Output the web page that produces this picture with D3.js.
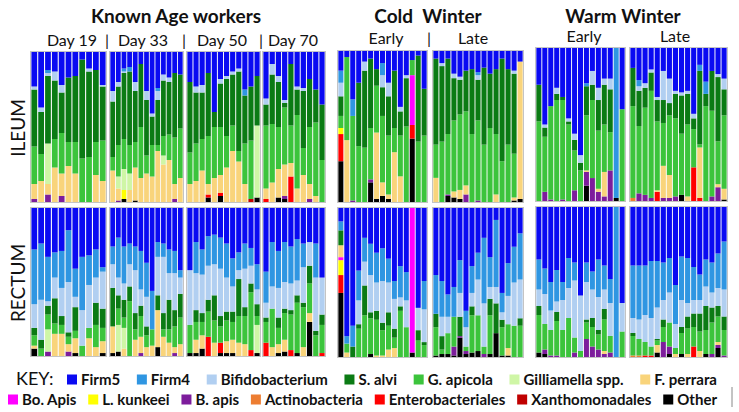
<!DOCTYPE html>
<html><head><meta charset="utf-8">
<script src="https://cdn.jsdelivr.net/npm/d3@7"></script>
<style>body{margin:0;background:#fff}svg{display:block;font-family:Lato,"Open Sans",sans-serif}</style>
</head><body>
<svg id="c" width="739" height="412"></svg>
<script>
// ---------- categories ----------
const taxaNames  = ["Firm5","Firm4","Bifidobacterium","S. alvi","G. apicola","Gilliamella spp.","F. perrara","Bo. Apis","L. kunkeei","B. apis","Actinobacteria","Enterobacteriales","Xanthomonadales","Other"];
const taxaKeys   = ["F5","F4","Bi","Sa","Ga","Gs","Fp","Bo","Lk","Ba","Ac","En","Xa","Ot"];
const taxaColors = ["#0a0af2","#2f96e2","#b1cff1","#0b7b14","#3cc43c","#cff6a6","#f9d47b","#ff00ff","#ffff00","#7d1d9c","#ed7d31","#ff0000","#c00000","#000000"];

// ---------- titles / labels ----------
const groupTitles = ["Known Age workers","Cold  Winter","Warm Winter"];
const subLabels   = ["Day 19","Day 33","Day 50","Day 70","Early","Late","Early","Late"];
const tissueLabels = ["ILEUM","RECTUM"];

// ---------- data: relative abundance (%) per bee, ILEUM ----------
const ileumDay19 = [
{F5:23,Bi:2,Sa:38,Ga:25,Fp:10,Ba:2},{F5:37,Bi:3,Sa:28,Ga:18,Fp:14},{F5:12,F4:2,Bi:2,Sa:45,Gs:27,Fp:7,Ba:5},
{F5:13,Bi:6,Sa:39,Ga:19,Fp:23},{F5:22,Bi:5,Sa:27,Ga:27,Fp:15,Ba:4},{F5:17,Sa:43,Ga:16,Fp:24},
{F5:16,Sa:44,Ga:21,Fp:19},{F5:5,Sa:66,Ga:29},{F5:11,Bi:2,Sa:57,Ga:30},{F5:12,Sa:48,Ga:22,Fp:18},
{F5:22,Bi:1,Sa:36,Ga:27,Fp:14}];
const ileumDay33 = [
{F5:26,Bi:7,Sa:37,Ga:9,Fp:21},{F5:20,Bi:3,Sa:39,Ga:21,Gs:8,Fp:8,Ba:1},{F5:11,F4:2,Bi:1,Sa:44,Ga:20,Gs:14,Lk:6,Ot:2},
{F5:10,F4:3,Sa:49,Ga:19,Gs:11,Fp:8},{F5:20,Bi:6,Sa:34,Ga:17,Fp:22,Ot:1},{F5:8,Sa:42,Ga:34,Fp:16},
{F5:26,Bi:6,Sa:37,Ga:12,Fp:19},{F5:41,Bi:2,Sa:19,Ga:21,Fp:17},{F5:24,F4:2,Bi:6,Sa:30,Ga:4,Fp:34},
{F5:15,Bi:4,Sa:37,Ga:13,Gs:6,Fp:25},{F5:17,Bi:3,Sa:35,Ga:17,Fp:28},{F5:14,Sa:43,Ga:31,Fp:10,Ba:2},
{F5:15,Sa:36,Ga:33,Fp:16}];
const ileumDay50 = [
{F5:20,Sa:47,Ga:21,Fp:12},{F5:23,Bi:4,Sa:34,Ga:25,Fp:14},{F5:22,Bi:5,Sa:31,Ga:21,Fp:21},
{F5:14,Sa:42,Ga:32,Fp:7,En:2,Ot:3},{F5:40,Sa:10,Ga:34,Fp:16},{F5:18,Bi:3,Sa:29,Ga:32,Fp:12,En:2,Ot:4},
{F5:16,Bi:2,Sa:38,Ga:21,Fp:23},{F5:13,Bi:2,Sa:34,Ga:17,Fp:34},{F5:11,Bi:2,Sa:53,Ga:7,Fp:27},
{F5:25,F4:4,Sa:32,Ga:27,Fp:12},{F5:23,Sa:36,Ga:39,Xa:2},{F5:16,Sa:33,Gs:48,Ot:3}];
const ileumDay70 = [
{F5:31,Bi:4,Sa:14,Ga:42,Fp:7,En:2},{F5:8,Bi:7,Sa:33,Ga:39,Fp:13},{F5:16,Bi:4,Sa:30,Ga:28,Fp:19,Ot:3},
{F5:32,Bi:2,Sa:3,Ga:38,Fp:21,Ba:2,Ot:2},{F5:8,Sa:41,Ga:25,Fp:9,En:17},{F5:23,Bi:2,Sa:17,Ga:49,Fp:9},
{F5:24,Bi:2,Sa:38,Ga:18,Fp:18},{F5:18,Sa:32,Ga:38,Fp:10,Ba:2},{F5:25,Sa:22,Ga:49,Fp:4},{F5:35,Sa:37,Ga:28}];
const ileumColdEarly = [
{F5:13,F4:8,Bi:9,Sa:13,Ga:8,Lk:4,En:18,Ot:27},{F5:4,Ga:55,Fp:41},{F5:32,F4:11,Ga:56,Ba:1},
{F5:21,Sa:42,Ga:37},{F5:7,Bi:6,Sa:51,Ga:36},{F5:5,Sa:46,Ga:34,Ba:2,Ot:13},
{F5:12,Sa:11,Ga:31,Fp:44,Ot:2},{F5:8,F4:8,Bi:8,Sa:19,Ga:44,Fp:9,Ot:4},{F5:21,Bi:9,Sa:26,Ga:39,Fp:3,Ot:2},
{F5:13,Sa:38,Ga:16,Fp:33},{F5:37,Bi:3,Sa:16,Ga:27,Fp:17},{F5:16,Bi:2,Sa:32,Ga:50},
{F5:6,Ga:10,Bo:33,En:9,Ot:42},{F5:3,Sa:57,Ga:40},{F5:25,Sa:31,Ga:44}];
const ileumColdLate = [
{F5:5,Sa:57,Ga:22,Fp:16},{F5:8,Bi:2,Sa:50,Ga:40},{F5:5,Sa:50,Ga:40,Ba:1,Ot:4},
{F5:15,Bi:3,Sa:28,Ga:47,Fp:4,Ot:3},{F5:17,Bi:2,Sa:23,Ga:50,Fp:6,Ot:2},{F5:13,Sa:27,Ga:49,Fp:6,Ba:5},
{F5:12,Sa:43,Ga:45},{F5:14,F4:2,Bi:3,Sa:27,Ga:53,Ba:1},{F5:11,Sa:51,Ga:38},
{F5:15,Sa:36,Ga:49},{F5:12,Sa:43,Ga:40,Fp:5},{F5:5,Sa:68,Ga:27},
{F5:12,Sa:50,Ga:38},{F5:13,Bi:2,Sa:53,Ga:29,Fp:2,Ot:1},{F5:7,Fp:91,Ot:2}];
const ileumWarmEarly = [
{F5:24,Sa:24,Ga:52},{F5:50,Bi:2,Sa:6,Ga:36,Ba:6},{F5:38,Ga:61,Ba:1},
{F5:26,Bi:4,Sa:4,Ga:66},{F5:32,Sa:2,Ga:65,Ba:1},{F5:46,Bi:2,Sa:2,Ga:50},
{F5:56,Bi:4,Sa:7,Ga:26,Ba:7},{F5:70,Bi:5,Sa:5,Ga:20},{F5:23,F4:2,Sa:19,Ga:36,Fp:1,Ba:9,Ot:10},
{F5:15,Bi:9,Sa:10,Ga:51,Ba:15},{F5:26,Bi:8,Sa:20,Ga:38,Fp:2,Ba:6},{F5:20,Bi:4,Sa:26,Ga:31,Fp:16,Ba:3},
{F5:20,Bi:7,Sa:28,Ga:25,Ba:20},{F4:98,Ot:2},{F5:40,Ga:60}];
const ileumWarmLate = [
{F5:13,Sa:25,Ga:60,Ac:2},{F5:21,F4:4,Bi:3,Sa:23,Ga:44,Ba:5},{F5:23,Bi:3,Sa:13,Ga:57,Ba:4},
{F5:14,Bi:2,Sa:12,Ga:70,Ba:2},{F5:32,Bi:2,Sa:14,Ga:45,Fp:1,En:6},{F5:15,Bi:19,Sa:15,Ga:28,Fp:21,Ba:2},
{F5:20,Bi:16,Sa:8,Ga:39,Fp:15,Ba:2},{F5:28,Bi:2,Sa:16,Ga:51,Ba:3},{F5:29,Bi:2,Sa:25,Ga:40,Ot:4},
{F5:28,Bi:2,Sa:20,Ga:47,Fp:3},{F5:43,Bi:3,Sa:7,Ga:25,En:22},{F5:11,F4:4,Sa:48,Ga:2,Fp:33,En:2},
{F5:22,F4:8,Sa:8,Ga:62},{F5:15,Sa:26,Ga:56,Ba:3},{F5:17,Bi:2,Sa:42,Ga:28,Fp:2,Ba:9},
{F5:20,Bi:7,Sa:17,Ga:48,Fp:7,Ot:1}];

// ---------- data: relative abundance (%) per bee, RECTUM ----------
const rectumDay19 = [
{F5:28,F4:37,Bi:16,Sa:5,Ga:7,Fp:2,Ot:5},{F5:24,F4:38,Bi:27,Sa:6,Ga:5},{F5:33,F4:30,Bi:3,Sa:6,Ga:10,Gs:15,Ba:3},
{F5:30,F4:17,Bi:14,Sa:17,Ga:7,Fp:15},{F5:29,F4:25,Bi:19,Sa:6,Ga:6,Fp:15},{F5:15,F4:35,Bi:34,Sa:3,Ga:5,Fp:5,Ba:3},
{F5:41,F4:19,Bi:7,Sa:16,Ga:5,Fp:10,Ot:2},{F5:33,F4:36,Bi:24,Ga:7},{F5:32,F4:20,Bi:29,Ga:7,Fp:12},
{F5:28,F4:19,Bi:17,Sa:15,Ga:15,Fp:6},{F5:40,F4:3,Bi:25,Sa:13,Ga:9,Fp:8,Ot:2}];
const rectumDay33 = [
{F5:26,F4:12,Bi:16,Sa:26,Fp:18,Ot:2},{F5:20,F4:27,Bi:12,Sa:9,Ga:11,Gs:18,Ot:3},{F5:26,F4:25,Bi:11,Sa:12,Ga:7,Gs:14,Fp:5},
{F5:24,F4:14,Bi:15,Sa:10,Ga:37},{F5:26,F4:16,Bi:29,Sa:11,Ga:7,Fp:11},{F5:29,F4:26,Bi:11,Sa:7,Ga:14,Fp:11,Ba:2},
{F5:37,F4:23,Bi:20,Sa:6,Ga:8,Fp:6},{F5:56,F4:26,Ga:11,Fp:7},{F5:23,F4:10,Bi:26,Sa:10,Fp:25,Ot:6},
{F5:24,F4:9,Bi:38,Sa:11,Ga:5,Fp:13},{F5:28,F4:16,Bi:18,Sa:20,Ga:9,Fp:9},{F5:29,F4:15,Bi:25,Sa:11,Ga:14,Fp:4,Ba:2},
{F5:42,F4:5,Bi:11,Sa:16,Ga:18,Fp:8}];
const rectumDay50 = [
{F5:42,Bi:37,Ga:19,Ot:2},{F5:23,F4:21,Bi:25,Sa:8,Ga:12,Fp:9,Ot:2},{F5:28,F4:17,Bi:26,Sa:6,Ga:9,Fp:9,Ot:5},
{F5:19,F4:20,Bi:23,Sa:8,Ga:17,En:13},{F5:18,F4:20,Bi:21,Sa:17,Ga:15,Fp:9},{F5:20,F4:21,Bi:32,Sa:7,Ga:11,En:7,Ot:2},
{F5:24,F4:23,Bi:23,Sa:6,Ga:14,Fp:8,Ot:2},{F5:34,F4:19,Bi:17,Sa:7,Ga:12,Fp:9,Ot:2},{F5:30,F4:12,Bi:6,Sa:25,Ga:18,Fp:9},
{F5:24,F4:17,Bi:26,Sa:6,Ga:19,Fp:8},{F5:27,F4:12,Bi:12,Sa:6,Ga:39,En:4},{F5:38,F4:17,Bi:10,Sa:8,Ga:6,Gs:19,Ot:2}];
const rectumDay70 = [
{F5:43,F4:21,Bi:10,Sa:3,Ga:14,En:9},{F5:23,F4:30,Bi:15,Ga:26,Fp:6},{F5:29,F4:25,Bi:20,Sa:7,Ga:11,Fp:6,Ot:2},
{F5:23,F4:27,Bi:18,Sa:3,Ga:18,Fp:8,Ot:3},{F5:26,F4:25,Bi:18,Sa:3,Ga:24,En:4},{F5:21,F4:28,Bi:10,Sa:5,Ga:34,Ot:2},
{F5:24,F4:16,Bi:24,Sa:3,Ga:27,Fp:6},{F5:23,Bi:16,Sa:12,Ga:20,Fp:6,Ot:23},{F5:24,F4:23,Bi:36,Sa:3,Ga:14},
{F5:47,Bi:25,Sa:7,Ga:19,En:2}];
const rectumColdEarly = [
{F5:9,F4:6,Sa:10,Fp:8,Bo:2,Lk:10,En:12,Ot:43},{F5:86,F4:5,Ga:6,Fp:3},{F5:79,F4:14,Sa:7},
{F5:42,F4:20,Bi:16,Sa:3,Ga:19},{F5:20,F4:16,Bi:16,Sa:20,Ga:28},{F5:24,F4:21,Bi:25,Sa:4,Ga:24,Ot:2},
{F5:30,F4:20,Bi:19,Sa:6,Ga:24,Fp:1},{F5:27,F4:22,Bi:28,Sa:5,Ga:17,Fp:1},{F5:34,F4:16,Bi:20,Sa:9,Ga:16,Fp:5},
{F5:49,F4:12,Bi:20,Sa:6,Ga:7,Fp:6},{F5:39,F4:21,Bi:6,Sa:3,Ga:31},{F5:43,F4:19,Bi:18,Ga:20},
{Bo:97,Ot:3},{F5:67,Bi:15,Sa:7,Ga:11},{F5:49,F4:19,Bi:22,Sa:2,Ga:8}];
const rectumColdLate = [
{F5:45,F4:26,Sa:9,Ga:19,Ot:1},{F5:49,F4:24,Bi:13,Sa:9,Ga:3,Ot:2},{F5:58,F4:15,Bi:11,Ga:14,Ot:2},
{F5:53,F4:20,Ga:20,Ba:6,Ot:1},{F5:35,F4:22,Bi:16,Sa:13,Ba:1,Ot:13},{F5:69,F4:11,Bi:13,Ga:3,Ba:2,Ot:2},
{F5:39,F4:18,Bi:9,Sa:6,Ga:25,Ot:3},{F5:30,F4:18,Bi:24,Ga:24,Ot:4},{F5:20,F4:44,Bi:29,Ga:5,Ba:2},
{F5:33,F4:20,Bi:8,Sa:11,Ga:26,Ot:2},{F5:8,F4:45,Bi:11,Sa:20,Ot:16},{F5:57,F4:13,Bi:5,Sa:5,Ga:19,Ot:1},
{F5:37,F4:22,Bi:19,Ga:16,Fp:5,Ot:1},{F5:26,F4:24,Bi:29,Ga:21},{F5:17,F4:31,Bi:26,Sa:5,Ga:21}];
const rectumWarmEarly = [
{F5:35,F4:20,Bi:11,Sa:6,Ga:25,Ot:3},{F5:41,F4:17,Bi:20,Ga:17,Ba:3,Ot:2},{F5:50,F4:19,Bi:13,Ga:17,Ba:1},
{F5:42,F4:21,Bi:7,Sa:6,Ga:23,Ba:1},{F5:50,F4:12,Bi:20,Ga:18},{F5:34,F4:20,Bi:20,Ga:26},
{F5:37,F4:12,Bi:38,Ga:10,Ba:3},{F5:59,Bi:37,Ga:4},{F5:37,F4:13,Bi:25,Sa:2,Ga:11,Ba:12},
{F5:43,F4:12,Bi:19,Sa:6,Ga:13,Ba:7},{F5:35,F4:25,Bi:22,Sa:3,Ga:10,Ba:5},{F5:39,F4:16,Bi:13,Sa:7,Ga:21,Fp:2,Ba:2},
{F5:48,F4:16,Bi:22,Ga:11,Ba:3},{F4:100},{F5:64,Bi:19,Ga:17}];
const rectumWarmLate = [
{F5:39,F4:35,Bi:10,Sa:2,Ga:13,Ac:1},{F5:39,F4:36,Bi:13,Ga:11,Ac:1},{F5:39,F4:33,Bi:18,Ga:9,En:1},
{F5:36,F4:38,Bi:19,Ga:6,En:1},{F5:36,F4:31,Bi:21,Sa:1,Ga:3,Fp:5,Ot:3},{F5:37,F4:25,Bi:13,Sa:5,Ga:10,Ba:10},
{F5:34,F4:23,Bi:20,Ga:16,Ba:5,Ot:2},{F5:52,F4:26,Bi:16,Ga:4,Fp:2},{F5:33,F4:29,Bi:18,Sa:4,Ga:14,Ot:2},
{F5:34,F4:30,Bi:9,Sa:8,Ga:17,Fp:2},{F5:40,F4:22,Bi:9,Sa:9,Ga:13,En:7},{F5:45,F4:17,Bi:9,Sa:12,Ga:13,Fp:4},
{F5:35,F4:18,Bi:13,Sa:16,Ga:16,Ot:2},{F5:37,F4:20,Bi:10,Sa:10,Ga:21,Ba:2},{F5:31,F4:23,Bi:12,Sa:7,Ga:17,Fp:2,Ba:2,Ot:6},
{F5:23,F4:32,Bi:18,Sa:9,Ga:17,Ba:1}];

// ---------- layout (pixels) ----------
const panelLayout = [
  {x:[31,106],  ileum:ileumDay19,     rectum:rectumDay19,     iy:[52,202], ry:[208,356]},
  {x:[110,183], ileum:ileumDay33,     rectum:rectumDay33,     iy:[52,202], ry:[208,356]},
  {x:[187,260], ileum:ileumDay50,     rectum:rectumDay50,     iy:[52,202], ry:[208,356]},
  {x:[263,325], ileum:ileumDay70,     rectum:rectumDay70,     iy:[52,202], ry:[208,356]},
  {x:[338,427], ileum:ileumColdEarly, rectum:rectumColdEarly, iy:[51,202], ry:[208,357]},
  {x:[433,523], ileum:ileumColdLate,  rectum:rectumColdLate,  iy:[51,202], ry:[208,357]},
  {x:[536,625], ileum:ileumWarmEarly, rectum:rectumWarmEarly, iy:[48,201], ry:[207,357]},
  {x:[630,727], ileum:ileumWarmLate,  rectum:rectumWarmLate,  iy:[48,201], ry:[207,357]}
];
const subLabelX = [72,143,222,293,386,473,584,675];
const subLabelY = [46,46,46,46,44,44,42,42];
const separatorX = [107,184,261,429];
const separatorY = [46,46,46,44];
const groupTitleX = [176,428,623];

const svg = d3.select("#c");
const stackKeys = taxaKeys.slice().reverse(); // Other at bottom ... Firm5 on top
const colorOf = d3.scaleOrdinal().domain(taxaKeys).range(taxaColors);
const stack = d3.stack().keys(stackKeys).value((d,k)=>d[k]||0).offset(d3.stackOffsetExpand);

function drawPanel(data, xr, yr){
  const x = d3.scaleBand().domain(d3.range(data.length)).range(xr).paddingInner(0.16).paddingOuter(0.06);
  const y = d3.scaleLinear().domain([0,1]).range([yr[1], yr[0]]);
  const g = svg.append("g");
  g.append("rect").attr("x",xr[0]-0.5).attr("y",yr[0]-0.5).attr("width",xr[1]-xr[0]+1).attr("height",yr[1]-yr[0]+1)
    .attr("fill","#fbfbfb").attr("stroke","#c4c4c4").attr("stroke-width",1);
  const series = stack(data);
  g.selectAll("g.s").data(series).join("g").attr("fill",s=>colorOf(s.key))
    .selectAll("rect").data(s=>s.map((v,i)=>({v,i}))).join("rect")
    .attr("x",d=>x(d.i)).attr("width",x.bandwidth())
    .attr("y",d=>y(d.v[1])).attr("height",d=>Math.max(0,y(d.v[0])-y(d.v[1])));
}
panelLayout.forEach(p=>{ drawPanel(p.ileum,p.x,p.iy); drawPanel(p.rectum,p.x,p.ry); });

// titles
svg.selectAll("text.gt").data(groupTitles).join("text").attr("class","gt")
  .attr("x",(d,i)=>groupTitleX[i]).attr("y",23).attr("text-anchor","middle")
  .attr("font-size",19).attr("font-weight",700).attr("fill","#111").style("white-space","pre").text(d=>d);
svg.selectAll("text.sl").data(subLabels).join("text").attr("class","sl")
  .attr("x",(d,i)=>subLabelX[i]).attr("y",(d,i)=>subLabelY[i]).attr("text-anchor","middle")
  .attr("font-size",16).attr("fill","#111").text(d=>d);
svg.selectAll("text.sep").data(separatorX).join("text").attr("class","sep")
  .attr("x",d=>d).attr("y",(d,i)=>separatorY[i]).attr("text-anchor","middle").attr("font-size",16).attr("fill","#111").text("|");
svg.selectAll("text.tl").data(tissueLabels).join("text").attr("class","tl")
  .attr("transform",(d,i)=>`translate(25,${i===0?128:283}) rotate(-90)`).attr("text-anchor","middle")
  .attr("font-size",19).attr("fill","#111").text(d=>d);

// legend
const rows = [[0,7],[7,14]];
const rowStart = [67,8], rowEnd = [717,717], rowY = [385,405];
svg.append("text").attr("x",16).attr("y",385).attr("font-size",18).attr("fill","#111").text("KEY:");
rows.forEach((r,ri)=>{
  const items = d3.range(r[0],r[1]);
  const g = svg.append("g");
  const texts = items.map(i=>g.append("text").attr("y",rowY[ri]).attr("font-size",15).attr("font-weight",700).attr("fill","#111").text(taxaNames[i]));
  const widths = texts.map(t=>t.node().getComputedTextLength());
  const sq = 10, tg = 4;
  const total = d3.sum(widths)+items.length*(sq+tg);
  const gap = (rowEnd[ri]-rowStart[ri]-total)/(items.length-1);
  let cx = rowStart[ri];
  items.forEach((i,k)=>{
    g.append("rect").attr("x",cx).attr("y",rowY[ri]-10.5).attr("width",sq).attr("height",sq).attr("fill",taxaColors[i]);
    texts[k].attr("x",cx+sq+tg);
    cx += sq+tg+widths[k]+gap;
  });
});
svg.append("line").attr("x1",732).attr("x2",732).attr("y1",387).attr("y2",407).attr("stroke","#888").attr("stroke-width",1);
</script>
</body></html>
